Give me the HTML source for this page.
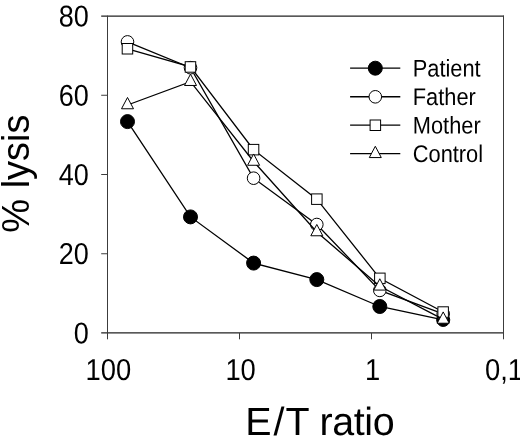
<!DOCTYPE html>
<html><head><meta charset="utf-8"><title>chart</title>
<style>
html,body{margin:0;padding:0;background:#fff;}
body{width:520px;height:441px;position:relative;overflow:hidden;font-family:"Liberation Sans",sans-serif;}
</style></head><body>
<svg width="520" height="441" viewBox="0 0 520 441" style="position:absolute;left:0;top:0;will-change:transform">
<rect x="0" y="0" width="520" height="441" fill="#fff"/>
<g stroke="#3c3c3c" stroke-width="1" fill="none">
<line x1="101.2" y1="16.15" x2="504.0" y2="16.15" stroke="#222" stroke-width="1.25"/>
<line x1="101.2" y1="332.9" x2="504.0" y2="332.9" stroke="#222" stroke-width="1.25"/>
<line x1="107.5" y1="15.65" x2="107.5" y2="339.3"/>
<line x1="503.5" y1="15.65" x2="503.5" y2="339.3"/>
<line x1="101.2" y1="253.75" x2="107.5" y2="253.75"/>
<line x1="101.2" y1="174.50" x2="107.5" y2="174.50"/>
<line x1="101.2" y1="95.25" x2="107.5" y2="95.25"/>
<line x1="239.50" y1="333.0" x2="239.50" y2="339.3"/>
<line x1="371.50" y1="333.0" x2="371.50" y2="339.3"/>
</g>
<polyline points="127.5,121.6 190.5,216.9 253.6,263.1 316.8,279.6 379.8,306.5 443.2,319.9" fill="none" stroke="#000" stroke-width="1.3"/>
<circle cx="127.5" cy="121.6" r="7.0" fill="#000" stroke="#000" stroke-width="1.0"/>
<circle cx="190.5" cy="216.9" r="7.0" fill="#000" stroke="#000" stroke-width="1.0"/>
<circle cx="253.6" cy="263.1" r="7.0" fill="#000" stroke="#000" stroke-width="1.0"/>
<circle cx="316.8" cy="279.6" r="7.0" fill="#000" stroke="#000" stroke-width="1.0"/>
<circle cx="379.8" cy="306.5" r="7.0" fill="#000" stroke="#000" stroke-width="1.0"/>
<circle cx="443.2" cy="319.9" r="6.55" fill="#000" stroke="#000" stroke-width="1.0"/>
<polyline points="127.5,41.9 190.5,67.7 253.6,178.2 316.8,224.5 379.8,290.4 443.2,313.9" fill="none" stroke="#000" stroke-width="1.3"/>
<circle cx="127.5" cy="41.9" r="6.3" fill="#fff" stroke="#000" stroke-width="1.0"/>
<circle cx="190.5" cy="67.7" r="6.3" fill="#fff" stroke="#000" stroke-width="1.0"/>
<circle cx="253.6" cy="178.2" r="6.3" fill="#fff" stroke="#000" stroke-width="1.0"/>
<circle cx="316.8" cy="224.5" r="6.3" fill="#fff" stroke="#000" stroke-width="1.0"/>
<circle cx="379.8" cy="290.4" r="6.3" fill="#fff" stroke="#000" stroke-width="1.0"/>
<circle cx="443.2" cy="313.9" r="6.3" fill="#fff" stroke="#000" stroke-width="1.0"/>
<polyline points="127.5,48.8 190.5,66.9 253.6,149.7 316.8,199.2 379.8,278.3 443.2,312.0" fill="none" stroke="#000" stroke-width="1.3"/>
<rect x="122.2" y="43.5" width="10.5" height="10.5" fill="#fff" stroke="#000" stroke-width="1.0"/>
<rect x="185.2" y="61.7" width="10.5" height="10.5" fill="#fff" stroke="#000" stroke-width="1.0"/>
<rect x="248.3" y="144.4" width="10.5" height="10.5" fill="#fff" stroke="#000" stroke-width="1.0"/>
<rect x="311.6" y="193.9" width="10.5" height="10.5" fill="#fff" stroke="#000" stroke-width="1.0"/>
<rect x="374.6" y="273.1" width="10.5" height="10.5" fill="#fff" stroke="#000" stroke-width="1.0"/>
<rect x="437.9" y="306.8" width="10.5" height="10.5" fill="#fff" stroke="#000" stroke-width="1.0"/>
<polyline points="127.5,105.0 190.5,81.7 253.6,161.5 316.8,232.0 379.8,286.3 443.2,319.4" fill="none" stroke="#000" stroke-width="1.3"/>
<polygon points="127.5,97.47 133.5,108.77 121.5,108.77" fill="#fff" stroke="#000" stroke-width="1.0" stroke-linejoin="miter"/>
<polygon points="190.5,74.17 196.5,85.47 184.5,85.47" fill="#fff" stroke="#000" stroke-width="1.0" stroke-linejoin="miter"/>
<polygon points="253.6,153.97 259.6,165.27 247.6,165.27" fill="#fff" stroke="#000" stroke-width="1.0" stroke-linejoin="miter"/>
<polygon points="316.8,224.47 322.8,235.77 310.8,235.77" fill="#fff" stroke="#000" stroke-width="1.0" stroke-linejoin="miter"/>
<polygon points="379.8,278.77 385.8,290.07 373.8,290.07" fill="#fff" stroke="#000" stroke-width="1.0" stroke-linejoin="miter"/>
<polygon points="443.2,311.92 449.2,323.22 437.2,323.22" fill="#fff" stroke="#000" stroke-width="1.0" stroke-linejoin="miter"/>
<line x1="350.1" y1="68.2" x2="400.3" y2="68.2" stroke="#000" stroke-width="1.3"/>
<line x1="350.1" y1="96.75" x2="400.3" y2="96.75" stroke="#000" stroke-width="1.3"/>
<line x1="350.1" y1="125.2" x2="400.3" y2="125.2" stroke="#000" stroke-width="1.3"/>
<line x1="350.1" y1="153.65" x2="400.3" y2="153.65" stroke="#000" stroke-width="1.3"/>
<circle cx="375.3" cy="68.2" r="7.0" fill="#000" stroke="#000" stroke-width="1.0"/>
<circle cx="375.3" cy="96.8" r="6.3" fill="#fff" stroke="#000" stroke-width="1.0"/>
<rect x="370.1" y="120.0" width="10.5" height="10.5" fill="#fff" stroke="#000" stroke-width="1.0"/>
<polygon points="375.3,146.27 381.3,157.57 369.3,157.57" fill="#fff" stroke="#000" stroke-width="1.0" stroke-linejoin="miter"/>
<text transform="translate(412.8,76.5) scale(0.905,1) rotate(0.03)" font-family="Liberation Sans, sans-serif" font-size="24.1" text-anchor="start" fill="#000" >Patient</text>
<text transform="translate(412.8,105.0) scale(0.905,1) rotate(0.03)" font-family="Liberation Sans, sans-serif" font-size="24.1" text-anchor="start" fill="#000" >Father</text>
<text transform="translate(412.8,133.5) scale(0.905,1) rotate(0.03)" font-family="Liberation Sans, sans-serif" font-size="24.1" text-anchor="start" fill="#000" >Mother</text>
<text transform="translate(412.8,162.0) scale(0.905,1) rotate(0.03)" font-family="Liberation Sans, sans-serif" font-size="24.1" text-anchor="start" fill="#000" >Control</text>
<text transform="translate(88.9,343.4) scale(0.895,1) rotate(0.03)" font-family="Liberation Sans, sans-serif" font-size="30.2" text-anchor="end" fill="#000" >0</text>
<text transform="translate(88.9,264.1) scale(0.895,1) rotate(0.03)" font-family="Liberation Sans, sans-serif" font-size="30.2" text-anchor="end" fill="#000" >20</text>
<text transform="translate(88.9,184.9) scale(0.895,1) rotate(0.03)" font-family="Liberation Sans, sans-serif" font-size="30.2" text-anchor="end" fill="#000" >40</text>
<text transform="translate(88.9,105.7) scale(0.895,1) rotate(0.03)" font-family="Liberation Sans, sans-serif" font-size="30.2" text-anchor="end" fill="#000" >60</text>
<text transform="translate(88.9,26.4) scale(0.895,1) rotate(0.03)" font-family="Liberation Sans, sans-serif" font-size="30.2" text-anchor="end" fill="#000" >80</text>
<text transform="translate(108.3,379.9) scale(0.905,1) rotate(0.03)" font-family="Liberation Sans, sans-serif" font-size="30.2" text-anchor="middle" fill="#000" >100</text>
<text transform="translate(240.6,379.9) scale(0.905,1) rotate(0.03)" font-family="Liberation Sans, sans-serif" font-size="30.2" text-anchor="middle" fill="#000" >10</text>
<text transform="translate(372.7,379.9) scale(0.905,1) rotate(0.03)" font-family="Liberation Sans, sans-serif" font-size="30.2" text-anchor="middle" fill="#000" >1</text>
<text transform="translate(504.0,379.9) scale(0.905,1) rotate(0.03)" font-family="Liberation Sans, sans-serif" font-size="30.2" text-anchor="middle" fill="#000" >0,1</text>
<text transform="translate(0,434.9) rotate(0.03)" font-family="Liberation Sans, sans-serif" font-size="39.4" fill="#000"><tspan x="245.3">E</tspan><tspan x="273.6">/</tspan><tspan x="285.4">T </tspan><tspan x="319.4" letter-spacing="-0.35">ratio</tspan></text>
<text transform="translate(29.3,173.6) rotate(-90)" font-family="Liberation Sans, sans-serif" font-size="38" text-anchor="middle" fill="#000">% lysis</text>
</svg>
</body></html>
